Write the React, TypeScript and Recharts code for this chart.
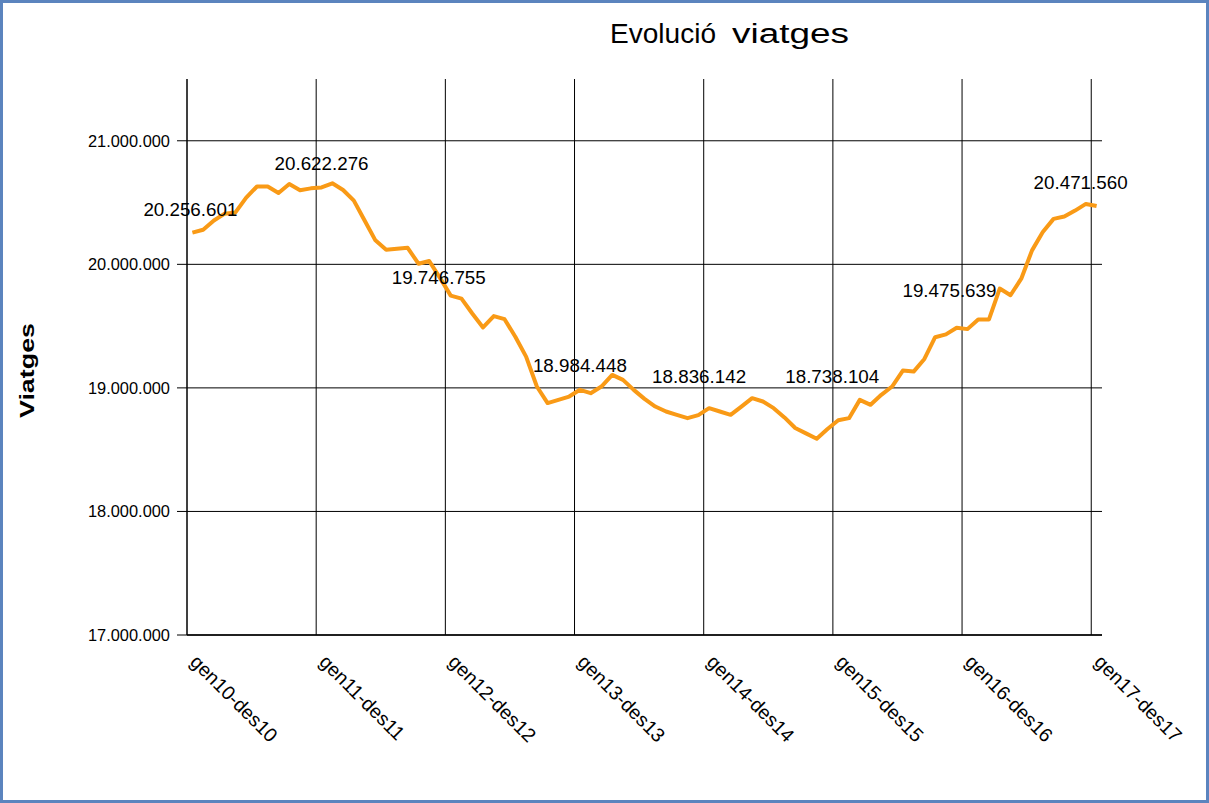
import { LineChart, Line, XAxis, YAxis, CartesianGrid, LabelList } from 'recharts';

const FONT = '"Liberation Sans", Arial, sans-serif';

const months = ['gen', 'feb', 'mar', 'abr', 'mai', 'jun', 'jul', 'ago', 'set', 'oct', 'nov', 'des'];

// rolling 12-month periods: gen10-des10, feb10-gen11, ... gen17-des17
const periods: string[] = [];
for (let i = 0; i < 85; i++) {
  const a = `${months[i % 12]}${10 + Math.floor(i / 12)}`;
  const b = `${months[(i + 11) % 12]}${10 + Math.floor((i + 11) / 12)}`;
  periods.push(`${a}-${b}`);
}

const viatges = [
  20256601, 20280000, 20355000, 20410000, 20420000, 20540000, 20630000, 20630000, 20578000, 20650000, 20600000, 20615000,
  20622276, 20656000, 20602000, 20516000, 20355000, 20194000, 20118000, 20126000, 20134000, 20005000, 20027000, 19890000,
  19746755, 19723000, 19602000, 19489000, 19581000, 19556000, 19414000, 19253000, 19011000, 18877000, 18903000, 18930000,
  18984448, 18957000, 19011000, 19105000, 19065000, 18984000, 18911000, 18849000, 18809000, 18782000, 18755000, 18780000,
  18836142, 18809000, 18782000, 18849000, 18917000, 18890000, 18836000, 18761000, 18675000, 18632000, 18589000, 18667000,
  18738104, 18755000, 18903000, 18863000, 18944000, 19011000, 19140000, 19132000, 19234000, 19410000, 19433000, 19487000,
  19475639, 19554000, 19554000, 19804000, 19750000, 19884000, 20113000, 20261000, 20368000, 20387000, 20435000, 20489000,
  20471560,
];

const yearTicks = [0, 12, 24, 36, 48, 60, 72, 84];
const yTicks = [17000000, 18000000, 19000000, 20000000, 21000000];

// hand-placed label nudges (dx, dy from the point), like the original
const labelNudge: Record<number, [number, number]> = {
  0: [-2, -17], 12: [0, -17], 24: [-12, -12], 36: [0, -18],
  48: [-10, -25], 60: [-6, -37], 72: [-18, -32], 84: [-16, -17],
};

const data = viatges.map((v, i) => ({ pos: i + 0.5, periode: periods[i], viatges: v }));

const fmt = (v: number) => String(Math.round(v)).replace(/\B(?=(\d{3})+(?!\d))/g, '.');

function YearTick({ x, y, payload }: any) {
  const x0 = x + 2;
  const y0 = y + 28;
  return (
    <text x={x0} y={y0} transform={`rotate(45, ${x0}, ${y0})`} fontSize={19.5} fill="#000" fontFamily={FONT}>
      {periods[payload.value]}
    </text>
  );
}

function PointLabel(props: any) {
  const { x, y, index, value } = props;
  const nudge = labelNudge[index];
  if (!nudge) return null;
  return (
    <text x={x + nudge[0]} y={y + nudge[1]} textAnchor="middle" fontSize={18.8} fill="#000" fontFamily={FONT}>
      {fmt(value)}
    </text>
  );
}

export default function App() {
  return (
    <div style={{ position: 'absolute', left: 0, top: 0, width: 1209, height: 803, background: '#fff' }}>
      <LineChart width={1209} height={803} data={data} margin={{ top: 79, right: 107, bottom: 0, left: 0 }}>
        <CartesianGrid stroke="#000" strokeWidth={1} verticalValues={yearTicks} horizontalValues={yTicks} />
        <XAxis
          type="number"
          dataKey="pos"
          domain={[0, 85]}
          ticks={yearTicks}
          tick={<YearTick />}
          tickLine={false}
          tickSize={0}
          tickMargin={0}
          height={168}
          axisLine={{ stroke: '#000', strokeWidth: 1.5 }}
          interval={0}
        />
        <YAxis
          domain={[17000000, 21500000]}
          ticks={yTicks}
          width={187}
          tickFormatter={fmt}
          tick={{ fontSize: 16.4, fill: '#000', fontFamily: FONT }}
          tickSize={10}
          tickMargin={7}
          tickLine={{ stroke: '#000' }}
          axisLine={{ stroke: '#000' }}
          interval={0}
        />
        <Line
          type="linear"
          dataKey="viatges"
          stroke="#F99A16"
          strokeWidth={4}
          strokeLinejoin="round"
          dot={false}
          activeDot={false}
          isAnimationActive={false}
        >
          <LabelList dataKey="viatges" content={<PointLabel />} />
        </Line>
      </LineChart>
      <svg width={1209} height={803} style={{ position: 'absolute', left: 0, top: 0, pointerEvents: 'none' }}>
        <text x={610} y={43} fontSize={27} fontFamily={FONT} fill="#000" textLength={106} lengthAdjust="spacingAndGlyphs">
          Evolució
        </text>
        <text x={732} y={43} fontSize={27} fontFamily={FONT} fill="#000" textLength={117} lengthAdjust="spacingAndGlyphs">
          viatges
        </text>
        <text
          x={34}
          y={370.5}
          transform="rotate(-90, 34, 370.5)"
          textAnchor="middle"
          fontSize={21}
          fontWeight="bold"
          fontFamily={FONT}
          fill="#000"
          textLength={95}
          lengthAdjust="spacingAndGlyphs"
        >
          Viatges
        </text>
        <rect x={1.5} y={1.5} width={1206} height={800} fill="none" stroke="#5B84BE" strokeWidth={3} />
      </svg>
    </div>
  );
}
